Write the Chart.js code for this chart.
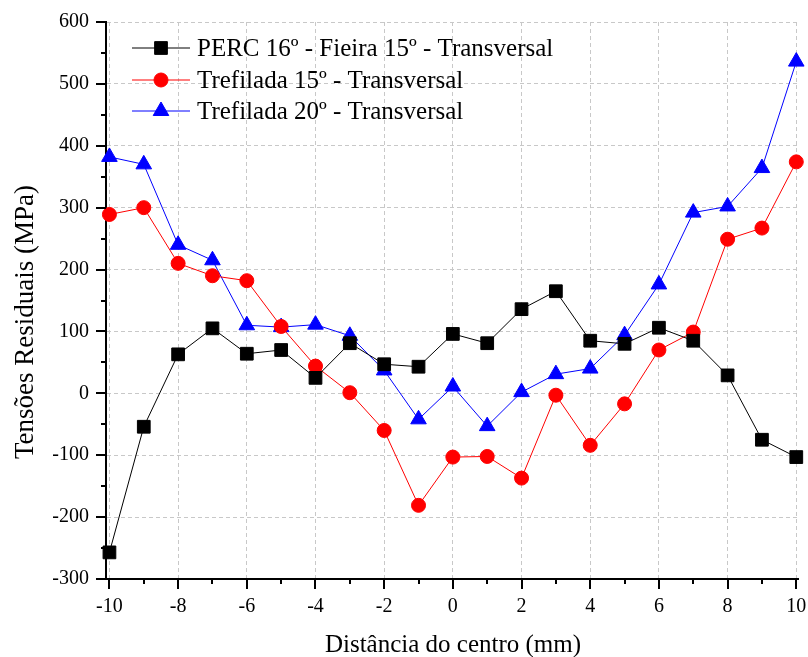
<!DOCTYPE html>
<html>
<head>
<meta charset="utf-8">
<script src="https://cdn.jsdelivr.net/npm/chart.js@4/dist/chart.umd.min.js"></script>
<style>
  html, body { margin: 0; padding: 0; background: #fff; }
  #wrap { width: 808px; height: 657px; }
</style>
</head>
<body>
<div id="wrap"><canvas id="chart" width="808" height="657"></canvas></div>
<script>
// distance from centre (mm)
const xValues = [-10, -9, -8, -7, -6, -5, -4, -3, -2, -1, 0, 1, 2, 3, 4, 5, 6, 7, 8, 9, 10];

// residual stresses (MPa)
const perc16 = [-257, -54, 63, 105, 64, 70, 25, 81, 47, 43, 96, 81, 136, 165, 85, 80, 106, 85, 29, -75, -103];
const tref15 = [289, 300, 210, 190, 182, 108, 44, 1, -60, -181, -103, -102, -137, -3, -84, -17, 70, 99, 249, 267, 374];
const tref20 = [382, 370, 240, 215, 110, 107, 111, 93, 37, -42, 11, -53, 2, 31, 40, 94, 176, 292, 302, 364, 536];

const seriesNames = [
  "PERC 16º - Fieira 15º - Transversal",
  "Trefilada 15º - Transversal",
  "Trefilada 20º - Transversal"
];

const xTitle = "Distância do centro (mm)";
const yTitle = "Tensões Residuais (MPa)";

// tick positions (minor + major)
const xTicks = [-10, -9, -8, -7, -6, -5, -4, -3, -2, -1, 0, 1, 2, 3, 4, 5, 6, 7, 8, 9, 10];
const yTicks = [-300, -250, -200, -150, -100, -50, 0, 50, 100, 150, 200, 250, 300, 350, 400, 450, 500, 550, 600];

const FONT = "'Liberation Serif', 'Times New Roman', serif";
Chart.defaults.font.family = FONT;
Chart.defaults.color = "#000";

const toPoints = ys => xValues.map((x, i) => ({ x: x, y: ys[i] }));

const isMajorX = v => v % 2 === 0;
const isMajorY = v => v % 100 === 0;

// small tick marks, outward, major and minor
const tickMarks = {
  id: "tickMarks",
  afterDraw(chart) {
    const ctx = chart.ctx;
    const xs = chart.scales.x, ys = chart.scales.y;
    const area = chart.chartArea;
    ctx.save();
    ctx.strokeStyle = "#000";
    ctx.lineWidth = 2;
    ctx.beginPath();
    xTicks.forEach(v => {
      const px = Math.round(xs.getPixelForValue(v));
      ctx.moveTo(px, area.bottom);
      ctx.lineTo(px, area.bottom + (isMajorX(v) ? 10 : 5));
    });
    yTicks.forEach(v => {
      const py = Math.round(ys.getPixelForValue(v));
      ctx.moveTo(area.left, py);
      ctx.lineTo(area.left - (isMajorY(v) ? 10 : 5), py);
    });
    ctx.stroke();
    ctx.restore();
  }
};

// axis titles
const axisTitles = {
  id: "axisTitles",
  afterDraw(chart) {
    const ctx = chart.ctx;
    ctx.save();
    ctx.fillStyle = "#000";
    ctx.textAlign = "center";
    ctx.textBaseline = "alphabetic";
    ctx.font = "25px " + FONT;
    ctx.fillText(xTitle, 453, 652);
    ctx.translate(33, 322);
    ctx.rotate(-Math.PI / 2);
    ctx.font = "27px " + FONT;
    ctx.fillText(yTitle, 0, 0);
    ctx.restore();
  }
};

// legend with line + marker, drawn inside the plot
const lineLegend = {
  id: "lineLegend",
  afterDraw(chart) {
    const ctx = chart.ctx;
    const rows = [48, 80, 111];
    ctx.save();
    chart.data.datasets.forEach((ds, i) => {
      const y = rows[i];
      ctx.strokeStyle = ds.borderColor;
      ctx.lineWidth = 1;
      ctx.beginPath();
      ctx.moveTo(132, y);
      ctx.lineTo(190, y);
      ctx.stroke();
      ctx.fillStyle = ds.pointBackgroundColor;
      ctx.strokeStyle = ds.pointBorderColor;
      ctx.lineWidth = 1;
      Chart.helpers.drawPoint(ctx, {
        pointStyle: ds.pointStyle, radius: ds.pointRadius, rotation: 0, borderWidth: 1
      }, 161, y);
      ctx.fillStyle = "#000";
      ctx.font = "25px " + FONT;
      ctx.textBaseline = "middle";
      ctx.textAlign = "left";
      ctx.fillText(ds.label, 197, y + 1);
    });
    ctx.restore();
  }
};

const colors = ["#000000", "#ff0000", "#0000ff"];
const styles = ["rect", "circle", "triangle"];
const radii = [9, 7, 9];
const allSeries = [perc16, tref15, tref20];

const datasets = allSeries.map((s, i) => ({
  label: seriesNames[i],
  data: toPoints(s),
  borderColor: colors[i],
  backgroundColor: colors[i],
  pointBackgroundColor: colors[i],
  pointBorderColor: colors[i],
  pointStyle: styles[i],
  pointRadius: radii[i],
  pointHoverRadius: radii[i],
  pointBorderWidth: 1,
  borderWidth: 1,
  tension: 0,
  clip: false
}));

new Chart(document.getElementById("chart"), {
  type: "line",
  data: { datasets: datasets },
  options: {
    responsive: false,
    animation: false,
    events: [],
    layout: { padding: { left: 0, right: 8, top: 22, bottom: 0 } },
    plugins: {
      legend: { display: false },
      tooltip: { enabled: false }
    },
    scales: {
      x: {
        type: "linear",
        min: -10.1,
        max: 10.05,
        afterBuildTicks: scale => { scale.ticks = xTicks.map(v => ({ value: v })); },
        afterFit: scale => {
          scale.height = 78;
          scale.paddingLeft = 0; scale.paddingRight = 0;
          scale.paddingTop = 0; scale.paddingBottom = 0;
        },
        ticks: {
          autoSkip: false,
          maxRotation: 0,
          padding: 16,
          font: { size: 20 },
          callback: v => isMajorX(v) ? String(v) : ""
        },
        grid: {
          drawTicks: false,
          lineWidth: 1,
          color: c => (c.tick && isMajorX(c.tick.value)) ? "#c8c8c8" : "rgba(0,0,0,0)"
        },
        border: { display: true, color: "#000", width: 2, dash: [4, 3] },
        title: { display: false }
      },
      y: {
        type: "linear",
        min: -300,
        max: 600,
        afterBuildTicks: scale => { scale.ticks = yTicks.map(v => ({ value: v })); },
        afterFit: scale => {
          scale.width = 106;
          scale.paddingLeft = 0; scale.paddingRight = 0;
          scale.paddingTop = 0; scale.paddingBottom = 0;
        },
        ticks: {
          autoSkip: false,
          padding: 17,
          font: { size: 20 },
          callback: v => isMajorY(v) ? String(v) : ""
        },
        grid: {
          drawTicks: false,
          lineWidth: 1,
          color: c => (c.tick && isMajorY(c.tick.value)) ? "#c8c8c8" : "rgba(0,0,0,0)"
        },
        border: { display: true, color: "#000", width: 2, dash: [4, 3] },
        title: { display: false }
      }
    }
  },
  plugins: [tickMarks, axisTitles, lineLegend]
});
</script>
</body>
</html>
